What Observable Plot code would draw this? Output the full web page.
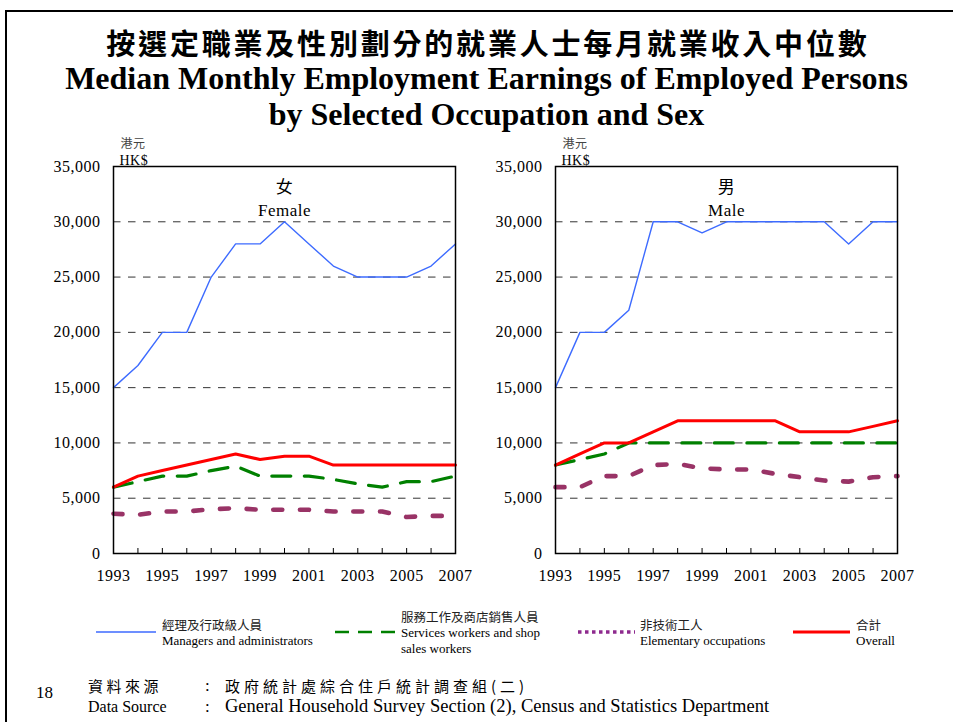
<!DOCTYPE html>
<html>
<head>
<meta charset="utf-8">
<script src="https://cdn.jsdelivr.net/npm/d3@7"></script>
<script src="https://cdn.jsdelivr.net/npm/@observablehq/plot@0.6"></script>
<style>
  html, body { margin: 0; padding: 0; background: #fff; }
  #page { position: relative; width: 953px; height: 722px; overflow: hidden; background: #fff; }
  .abs { position: absolute; white-space: nowrap; color: #000; }
  .serif { font-family: "Liberation Serif", "Times New Roman", serif; }
  .cjk { font-family: "Noto Sans CJK TC", sans-serif; }
  #frameline { position: absolute; left: 5px; top: 10px; width: 960px; height: 720px; border-top: 2px solid #000; border-left: 2px solid #000; }
  .panel { position: absolute; top: 130px; }
  .leg { position: absolute; line-height: 16px; font-size: 13px; white-space: nowrap; }
</style>
</head>
<body>
<div id="page">
  <div id="frameline"></div>
  <div class="abs cjk" style="left:10px;width:953px;text-align:center;top:27px;font-size:29px;line-height:30px;font-weight:700;letter-spacing:2.8px;text-indent:2.8px;">按選定職業及性別劃分的就業人士每月就業收入中位數</div>
  <div class="abs serif" style="left:10px;width:953px;text-align:center;top:67.5px;font-size:32px;line-height:20px;font-weight:700;">Median Monthly Employment Earnings of Employed Persons</div>
  <div class="abs serif" style="left:10px;width:953px;text-align:center;top:103.5px;font-size:32px;line-height:20px;font-weight:700;">by Selected Occupation and Sex</div>

  <div id="left" class="panel" style="left:40px;"></div>
  <div id="right" class="panel" style="left:482px;"></div>

  <div id="legend"></div>

  <div class="abs serif" style="left:36px;top:683px;font-size:17px;line-height:20px;">18</div>
  <div class="abs cjk" style="left:88px;top:676px;font-size:15px;line-height:20px;letter-spacing:3.5px;">資料來源</div>
  <div class="abs serif" style="left:205px;top:676px;font-size:17px;line-height:20px;">:</div>
  <div class="abs cjk" style="left:225px;top:676px;font-size:15px;line-height:20px;letter-spacing:4px;">政府統計處綜合住戶統計調查組(二)</div>
  <div class="abs serif" style="left:88px;top:697px;font-size:16px;line-height:20px;">Data Source</div>
  <div class="abs serif" style="left:205px;top:697px;font-size:17px;line-height:20px;">:</div>
  <div class="abs serif" style="left:225px;top:696px;font-size:18.5px;line-height:20px;">General Household Survey Section (2), Census and Statistics Department</div>
</div>
<script>
// ---- data ----
const years = [1993, 1994, 1995, 1996, 1997, 1998, 1999, 2000, 2001, 2002, 2003, 2004, 2005, 2006, 2007];
const yearLabels = [1993, 1995, 1997, 1999, 2001, 2003, 2005, 2007];
const yTicks = [0, 5000, 10000, 15000, 20000, 25000, 30000, 35000];

const femaleManagers   = [15000, 17000, 20000, 20000, 25000, 28000, 28000, 30000, 28000, 26000, 25000, 25000, 25000, 26000, 28000];
const femaleServices   = [6000, 6500, 7000, 7000, 7500, 7900, 7000, 7000, 7000, 6700, 6300, 6000, 6500, 6500, 7000];
const femaleElementary = [3600, 3500, 3800, 3800, 4000, 4100, 3950, 3950, 3950, 3800, 3800, 3800, 3300, 3400, 3400];
const femaleOverall    = [6000, 7000, 7500, 8000, 8500, 9000, 8500, 8800, 8800, 8000, 8000, 8000, 8000, 8000, 8000];

const maleManagers   = [15000, 20000, 20000, 22000, 30000, 30000, 29000, 30000, 30000, 30000, 30000, 30000, 28000, 30000, 30000];
const maleServices   = [8000, 8500, 9000, 10000, 10000, 10000, 10000, 10000, 10000, 10000, 10000, 10000, 10000, 10000, 10000];
const maleElementary = [6000, 6000, 7000, 7000, 8000, 8100, 7700, 7600, 7600, 7200, 6900, 6600, 6500, 6900, 7000];
const maleOverall    = [8000, 9000, 10000, 10000, 11000, 12000, 12000, 12000, 12000, 12000, 11000, 11000, 11000, 11500, 12000];

const seriesNames = ["Managers and administrators", "Services workers and shop sales workers", "Elementary occupations", "Overall"];
const seriesNamesZh = ["經理及行政級人員", "服務工作及商店銷售人員", "非技術工人", "合計"];

const styles = {
  managers:   {stroke: "#3d6bff", strokeWidth: 1.4},
  services:   {stroke: "#008000", strokeWidth: 3.2, strokeDasharray: "19,13.5"},
  elementary: {stroke: "#993366", strokeWidth: 4.6, strokeDasharray: "9,17.7"},
  overall:    {stroke: "#ff0000", strokeWidth: 3}
};

function rows(vals) { return years.map((y, i) => ({year: y, value: vals[i]})); }

function panel(zh, en, data) {
  return Plot.plot({
    width: 430, height: 470,
    marginLeft: 73, marginRight: 15, marginTop: 36, marginBottom: 47,
    x: {domain: [1993, 2007]},
    y: {domain: [0, 35000]},
    style: {fontFamily: "'Liberation Serif', 'Times New Roman', serif", fontSize: "16px", letterSpacing: "0.5px", background: "transparent", overflow: "visible", color: "#000"},
    marks: [
      Plot.ruleY(yTicks, {stroke: "#333", strokeWidth: 1, strokeDasharray: "7.5,7.5"}),
      Plot.line(rows(data.elementary), {x: "year", y: "value", ...styles.elementary}),
      Plot.line(rows(data.services), {x: "year", y: "value", ...styles.services}),
      Plot.line(rows(data.managers), {x: "year", y: "value", ...styles.managers}),
      Plot.line(rows(data.overall), {x: "year", y: "value", ...styles.overall}),
      Plot.frame({stroke: "#000", strokeWidth: 1.5}),
      Plot.axisY({ticks: yTicks, tickSize: 0, tickPadding: 13, tickFormat: d3.format(","), label: null}),
      Plot.axisX({ticks: years, tickSize: -5, tickFormat: () => "", label: null, strokeWidth: 1}),
      Plot.axisX({ticks: yearLabels, tickSize: 0, tickPadding: 16, tickFormat: d => String(d), label: null}),
      Plot.text([zh], {frameAnchor: "top", dy: 21, fontFamily: "Noto Sans CJK TC", fontSize: 17, lineAnchor: "middle"}),
      Plot.text([en], {frameAnchor: "top", dy: 44, fontSize: 17, lineAnchor: "middle"}),
      Plot.text(["港元"], {frameAnchor: "top-left", dx: 7, dy: -22, textAnchor: "start", lineAnchor: "middle", fontFamily: "Noto Sans CJK TC", fontSize: 12, fill: "#444"}),
      Plot.text(["HK$"], {frameAnchor: "top-left", dx: 6, dy: -6, textAnchor: "start", lineAnchor: "middle", fontSize: 14})
    ]
  });
}

document.getElementById("left").appendChild(panel("女", "Female", {
  managers: femaleManagers, services: femaleServices, elementary: femaleElementary, overall: femaleOverall
}));
document.getElementById("right").appendChild(panel("男", "Male", {
  managers: maleManagers, services: maleServices, elementary: maleElementary, overall: maleOverall
}));

// ---- legend ----
const legendItems = [
  {x: 96, w: 60, textX: 162, zh: seriesNamesZh[0], en: ["Managers and administrators"], style: {stroke: "#6d8fff", width: 2}},
  {x: 335, w: 60, textX: 401, zh: seriesNamesZh[1], en: ["Services workers and shop", "sales workers"], style: {stroke: "#008000", width: 2.5, dash: "14,9"}},
  {x: 578, w: 57, textX: 640, zh: seriesNamesZh[2], en: ["Elementary occupations"], style: {stroke: "#8e2a8e", width: 3.5, dash: "3.5,3.5"}},
  {x: 793, w: 57, textX: 856, zh: seriesNamesZh[3], en: ["Overall"], style: {stroke: "#ff0000", width: 3}}
];
const legend = document.getElementById("legend");
for (const it of legendItems) {
  const svgNS = "http://www.w3.org/2000/svg";
  const s = document.createElementNS(svgNS, "svg");
  s.setAttribute("width", it.w); s.setAttribute("height", 10);
  s.style.position = "absolute"; s.style.left = it.x + "px"; s.style.top = "627px";
  const l = document.createElementNS(svgNS, "line");
  l.setAttribute("x1", 0); l.setAttribute("x2", it.w); l.setAttribute("y1", 5); l.setAttribute("y2", 5);
  l.setAttribute("stroke", it.style.stroke); l.setAttribute("stroke-width", it.style.width);
  if (it.style.dash) l.setAttribute("stroke-dasharray", it.style.dash);
  s.appendChild(l);
  legend.appendChild(s);
  const nLines = 1 + it.en.length;
  const top = 633 - nLines * 8;
  const d = document.createElement("div");
  d.className = "leg";
  d.style.left = it.textX + "px"; d.style.top = top + "px";
  d.innerHTML = `<div class="cjk" style="font-size:12.5px;color:#222">${it.zh}</div>` + it.en.map(e => `<div class="serif">${e}</div>`).join("");
  legend.appendChild(d);
}
</script>
</body>
</html>
